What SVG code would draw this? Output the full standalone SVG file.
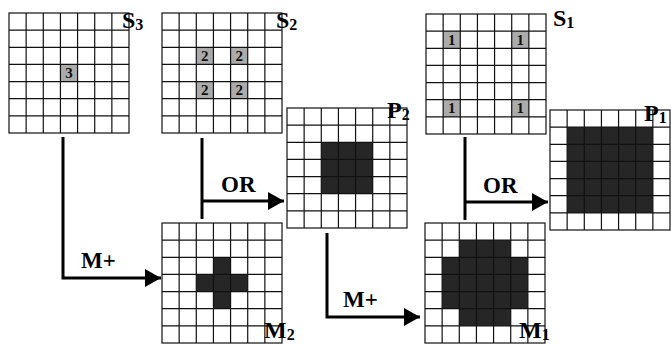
<svg xmlns="http://www.w3.org/2000/svg" xmlns:xlink="http://www.w3.org/1999/xlink" width="671" height="345" viewBox="0 0 671 345">
<style>
.gl{fill:none;stroke:#111;stroke-width:1.2}
.num{fill:#ababab}
.dark{fill:#262626}
.nt{font-family:"Liberation Serif",serif;font-weight:bold;font-size:15px;text-anchor:middle;fill:#111}
.lbl{font-family:"Liberation Serif",serif;font-weight:bold;font-size:24px;fill:#000}
.sub{font-size:16px}
.op{font-family:"Liberation Serif",serif;font-weight:bold;font-size:23px;fill:#000}
.cn{fill:none;stroke:#000;stroke-width:3}
</style>
<defs>
<g id="grid">
<rect class="gl" x="0" y="0" width="120" height="120"/>
<path class="gl" d="M17.14,0V120M34.29,0V120M51.43,0V120M68.57,0V120M85.71,0V120M102.86,0V120M0,17.14H120M0,34.29H120M0,51.43H120M0,68.57H120M0,85.71H120M0,102.86H120"/>
</g>
<marker id="ah" viewBox="0 0 16 18" refX="16" refY="9" markerWidth="16" markerHeight="18" markerUnits="userSpaceOnUse" orient="auto">
<path d="M0,0L16,9L0,18z" fill="#000"/>
</marker>
</defs>

<g id="S3">
<rect class="num" x="60.43" y="64.43" width="17.14" height="17.14"/>
<text class="nt" x="69" y="78">3</text>
<use xlink:href="#grid" x="9" y="13"/>
<text class="lbl" x="122" y="28">S<tspan class="sub" dy="2">3</tspan></text>
</g>

<g id="S2">
<rect class="num" x="196.29" y="47.29" width="17.14" height="17.14"/>
<rect class="num" x="230.57" y="47.29" width="17.14" height="17.14"/>
<rect class="num" x="196.29" y="81.57" width="17.14" height="17.14"/>
<rect class="num" x="230.57" y="81.57" width="17.14" height="17.14"/>
<text class="nt" x="204.86" y="61">2</text>
<text class="nt" x="239.14" y="61">2</text>
<text class="nt" x="204.86" y="95.3">2</text>
<text class="nt" x="239.14" y="95.3">2</text>
<use xlink:href="#grid" x="162" y="13"/>
<text class="lbl" x="276" y="28">S<tspan class="sub" dy="2">2</tspan></text>
</g>

<g id="S1">
<rect class="num" x="443.14" y="31.14" width="17.14" height="17.14"/>
<rect class="num" x="511.71" y="31.14" width="17.14" height="17.14"/>
<rect class="num" x="443.14" y="99.71" width="17.14" height="17.14"/>
<rect class="num" x="511.71" y="99.71" width="17.14" height="17.14"/>
<text class="nt" x="451.7" y="44.8">1</text>
<text class="nt" x="520.3" y="44.8">1</text>
<text class="nt" x="451.7" y="113.4">1</text>
<text class="nt" x="520.3" y="113.4">1</text>
<use xlink:href="#grid" x="426" y="14"/>
<text class="lbl" x="553" y="26">S<tspan class="sub" dy="2">1</tspan></text>
</g>

<g id="P2">
<rect class="dark" x="321.29" y="142.29" width="51.43" height="51.43"/>
<use xlink:href="#grid" x="287" y="108"/>
<text class="lbl" x="387" y="118">P<tspan class="sub" dy="2">2</tspan></text>
</g>

<g id="P1">
<rect class="dark" x="567.14" y="127.14" width="85.71" height="85.71"/>
<use xlink:href="#grid" x="550" y="110"/>
<text class="lbl" x="644" y="121">P<tspan class="sub" dy="2" font-size="12">1</tspan></text>
</g>

<g id="M2">
<rect class="dark" x="196.29" y="274.43" width="51.43" height="17.14"/>
<rect class="dark" x="213.43" y="257.29" width="17.14" height="51.43"/>
<use xlink:href="#grid" x="162" y="223"/>
<text class="lbl" x="264" y="338">M<tspan class="sub" dy="2">2</tspan></text>
</g>

<g id="M1">
<rect class="dark" x="459.29" y="240.14" width="51.43" height="17.14"/>
<rect class="dark" x="442.14" y="257.29" width="85.71" height="51.43"/>
<rect class="dark" x="459.29" y="308.71" width="51.43" height="17.14"/>
<use xlink:href="#grid" x="425" y="223"/>
<text class="lbl" x="519" y="338">M<tspan class="sub" dy="2">1</tspan></text>
</g>

<g id="connectors">
<path class="cn" d="M63,137V278H161" marker-end="url(#ah)"/>
<path class="cn" d="M202,138V219"/>
<path class="cn" d="M202,201H284" marker-end="url(#ah)"/>
<path class="cn" d="M327,233V317H420" marker-end="url(#ah)"/>
<path class="cn" d="M465,137V220"/>
<path class="cn" d="M465,202H548" marker-end="url(#ah)"/>
<text class="op" x="81" y="268">M+</text>
<text class="op" x="221" y="192">OR</text>
<text class="op" x="343" y="307">M+</text>
<text class="op" x="483" y="193">OR</text>
</g>
</svg>
